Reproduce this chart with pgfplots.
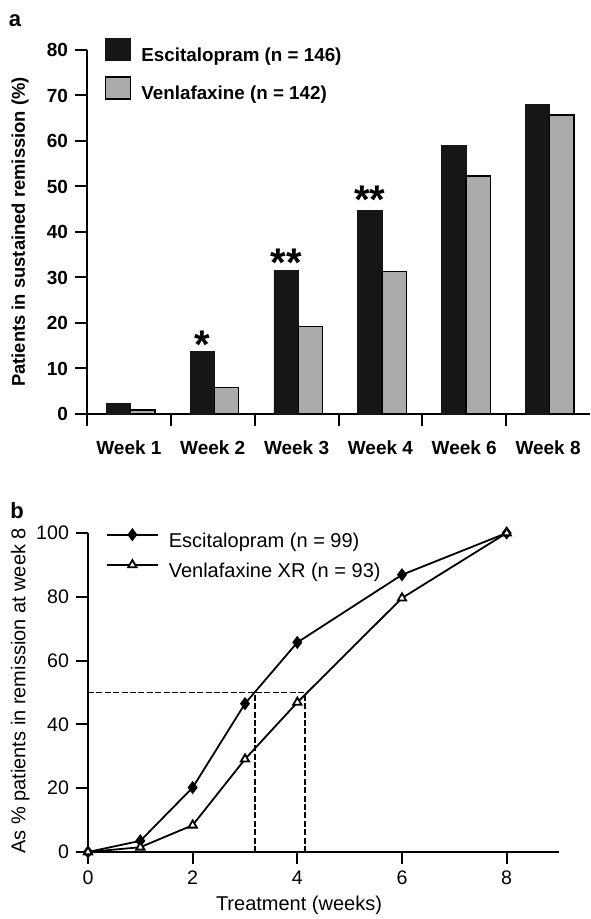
\documentclass[border=0pt]{standalone}
\usepackage{fontspec}
\setmainfont{Liberation Sans}
\usepackage{pgfplots}
\pgfplotsset{compat=1.18}
\definecolor{escbar}{HTML}{161616}
\definecolor{venbar}{HTML}{ABABAB}
\pgfplotsset{sqlegend/.style={legend image code/.code={\draw[##1] (0pt,-2.2pt) rectangle (12.5pt,8.8pt);}}}
\begin{document}
\begin{tikzpicture}
\begin{axis}[
  at={(43.5pt,252.5pt)}, anchor=south west,
  scale only axis, width=251.5pt, height=182pt,
  xmin=0, xmax=6, ymin=0, ymax=80,
  axis x line*=bottom, axis y line*=left,
  axis line style={line width=1pt, -},
  tick align=outside, major tick length=6pt,
  tick style={line width=1pt, black},
  xtick={0,1,2,3,4,5}, xticklabels={},
  extra x ticks={0.5,1.5,2.5,3.5,4.5,5.5},
  extra x tick labels={Week 1,Week 2,Week 3,Week 4,Week 6,Week 8},
  extra x tick style={major tick length=0pt, xticklabel style={yshift=-10pt}},
  ytick={0,10,...,80},
  /pgf/number format/assume math mode=true,
  ticklabel style={font=\bfseries\fontsize{9.5}{11}\selectfont},
  ylabel={Patients in sustained remission (\%)},
  ylabel style={at={(axis description cs:-0.133,0.5)}, anchor=center, font=\bfseries\fontsize{9.2}{11}\selectfont},
  clip=false,
  legend style={draw=none, fill=none, at={(rel axis cs:0.0358,1.033)}, anchor=north west,
    inner sep=0pt, outer sep=0pt, row sep=6pt, column sep=5pt, nodes={inner sep=0pt},
    font=\bfseries\fontsize{9.4}{11}\selectfont},
  legend cell align=left,
]
\addplot[ybar, bar width=0.29, bar shift=-0.125, fill=escbar, draw=escbar, sqlegend]
  coordinates {(0.5,2.3) (1.5,13.8) (2.5,31.6) (3.5,44.8) (4.5,59.0) (5.5,68.1)};
\addplot[ybar, bar width=0.29, bar shift=0.165, fill=venbar, draw=black, line width=0.7pt, sqlegend]
  coordinates {(0.5,0.9) (1.5,5.8) (2.5,19.2) (3.5,31.3) (4.5,52.3) (5.5,65.7)};
\legend{Escitalopram (n = 146), Venlafaxine (n = 142)}
\node[font=\bfseries\fontsize{20}{20}\selectfont, inner sep=0pt] at (axis cs:1.375,15.3) {*};
\node[font=\bfseries\fontsize{20}{20}\selectfont, inner sep=0pt] at (axis cs:2.375,33.2) {**};
\node[font=\bfseries\fontsize{20}{20}\selectfont, inner sep=0pt] at (axis cs:3.375,47.0) {**};
\end{axis}

\begin{axis}[
  at={(44pt,33.5pt)}, anchor=south west,
  scale only axis, width=235.5pt, height=159.5pt,
  xmin=0, xmax=9, ymin=0, ymax=100,
  axis x line*=bottom, axis y line*=left,
  axis line style={line width=1pt, -},
  tick align=outside, major tick length=6pt,
  tick style={line width=1pt, black},
  xtick={0,2,4,6,8}, ytick={0,20,...,100},
  /pgf/number format/assume math mode=true,
  ticklabel style={font=\fontsize{9.8}{11}\selectfont},
  xlabel={Treatment (weeks)},
  xlabel style={at={(axis description cs:0.448,-0.166)}, anchor=center, font=\fontsize{10}{12}\selectfont},
  ylabel={As \% patients in remission at week 8},
  ylabel style={at={(axis description cs:-0.144,0.505)}, anchor=center, font=\fontsize{10}{12}\selectfont},
  clip=false,
  legend style={draw=none, fill=none, at={(rel axis cs:0.0382,1.011)}, anchor=north west,
    inner sep=0pt, outer sep=0pt, row sep=5pt, column sep=5pt, nodes={inner sep=0pt},
    font=\fontsize{10}{12}\selectfont},
  legend cell align=left,
  legend image code/.code={\draw[mark repeat=2,mark phase=2,#1] plot coordinates {(0pt,3.3pt) (12.75pt,3.3pt) (25.5pt,3.3pt)};},
]
\addplot[black, line width=0.9pt, mark=diamond*, mark size=2.6pt, mark options={fill=black, solid}]
  coordinates {(0,0) (1,3.5) (2,20.2) (3,46.5) (4,65.7) (6,86.9) (8,100)};
\addplot[black, line width=0.9pt, mark=triangle*, mark size=2.4pt, mark options={fill=white, solid}]
  coordinates {(0,0) (1,1.5) (2,8.4) (3,29.1) (4,46.9) (6,79.6) (8,100)};
\legend{Escitalopram (n = 99), Venlafaxine XR (n = 93)}
\addplot[black, line width=0.9pt, dash pattern=on 3pt off 1.2pt, forget plot] coordinates {(0,50) (4.15,50)};
\addplot[black, line width=0.9pt, dash pattern=on 3pt off 1.2pt, forget plot] coordinates {(3.19,0) (3.19,50)};
\addplot[black, line width=0.9pt, dash pattern=on 3pt off 1.2pt, forget plot] coordinates {(4.15,0) (4.15,50)};
\end{axis}

\node[font=\bfseries\fontsize{11}{12}\selectfont] at (7.5pt,449pt) {a};
\node[font=\bfseries\fontsize{11}{12}\selectfont] at (8.5pt,204pt) {b};
\pgfresetboundingbox
\useasboundingbox (0,0) rectangle (295pt,459.5pt);
\end{tikzpicture}
\end{document}
